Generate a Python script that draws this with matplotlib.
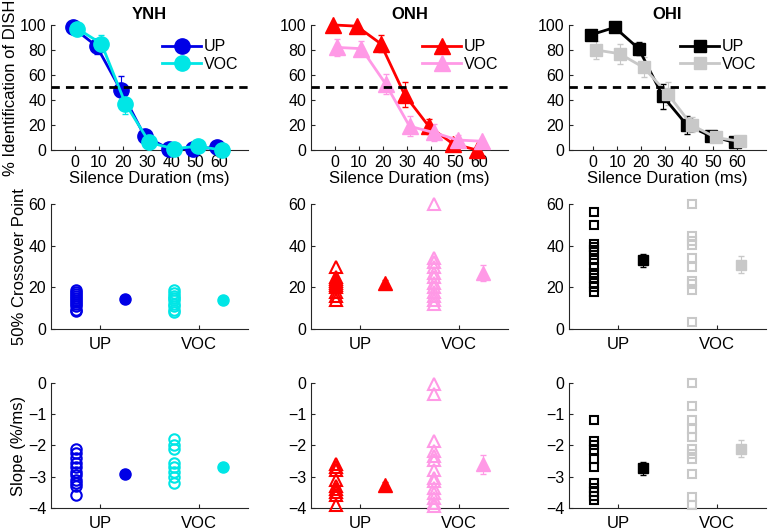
import numpy as np
import matplotlib.pyplot as plt

plt.rcParams['font.family'] = ['Liberation Sans', 'DejaVu Sans']
plt.rcParams['font.size'] = 11

groups = ['YNH', 'ONH', 'OHI']
conditions = ['UP', 'VOC']
silence = [0, 10, 20, 30, 40, 50, 60]

# identification curves (% DISH)
ynh_up = [98, 83, 48, 11, 1, 1, 2]
ynh_up_err = [1.5, 6, 11, 3, 1, 1, 1]
ynh_voc = [97, 85, 37, 6, 1, 3, 0]
ynh_voc_err = [1.5, 7, 8, 2, 1, 1, 1]
onh_up = [100, 99, 85, 44, 19, 5, 0]
onh_up_err = [0.5, 1, 7, 10, 6, 3, 0.5]
onh_voc = [82, 81, 53, 19, 14, 8, 7]
onh_voc_err = [7, 6, 8, 8, 7, 4, 2]
ohi_up = [92, 98, 81, 43, 20, 11, 6]
ohi_up_err = [4, 2, 5, 10, 7, 4, 4]
ohi_voc = [80, 77, 66, 45, 20, 10, 7]
ohi_voc_err = [7, 8, 8, 9, 6, 4, 3]

# 50% crossover points (individuals and mean +/- se)
ynh_cross_up = [19, 18, 17, 16, 15, 14, 13, 12, 11, 9, 8.5]
ynh_cross_voc = [19, 17.5, 16, 15, 14, 12, 11, 9, 8]
ynh_cross_mean = [14.5, 14]
ynh_cross_se = [1, 1]
onh_cross_up = [30, 25, 24, 23, 22, 21, 20, 18, 16, 14]
onh_cross_voc = [60, 34, 32, 30, 27, 25, 22, 20, 18, 16, 14, 12]
onh_cross_mean = [22, 27]
onh_cross_se = [1.5, 4]
ohi_cross_up = [56, 50, 41, 39.5, 38, 35.5, 33, 30, 27, 24.5, 22, 20, 18]
ohi_cross_voc = [60, 44.5, 42.5, 40.5, 34, 30, 23, 21.5, 19, 3.5]
ohi_cross_mean = [33, 31]
ohi_cross_se = [3, 4]

# slopes (%/ms)
ynh_slope_up = [-2.1, -2.25, -2.4, -2.55, -2.7, -2.85, -2.95, -3.1, -3.2, -3.3, -3.6]
ynh_slope_voc = [-1.8, -2.0, -2.1, -2.55, -2.7, -2.85, -3.0, -3.2]
ynh_slope_mean = [-2.9, -2.7]
ynh_slope_se = [0.1, 0.12]
onh_slope_up = [-2.6, -2.7, -2.8, -3.1, -3.3, -3.4, -3.5, -3.6, -3.9]
onh_slope_voc = [-0.05, -0.37, -1.87, -2.19, -2.35, -2.45, -2.77, -3.04, -3.15,
                 -3.36, -3.52, -3.68, -3.84, -3.95]
onh_slope_mean = [-3.25, -2.6]
onh_slope_se = [0.08, 0.3]
ohi_slope_up = [-1.2, -1.85, -2.0, -2.15, -2.42, -2.7, -3.2, -3.36, -3.5, -3.63, -3.75]
ohi_slope_voc = [0, -0.75, -1.2, -1.47, -1.73, -2.1, -2.26, -2.43, -2.91, -3.65, -3.91]
ohi_slope_mean = [-2.73, -2.1]
ohi_slope_se = [0.2, 0.28]

ident = [(ynh_up, ynh_up_err, ynh_voc, ynh_voc_err),
         (onh_up, onh_up_err, onh_voc, onh_voc_err),
         (ohi_up, ohi_up_err, ohi_voc, ohi_voc_err)]
cross = [(ynh_cross_up, ynh_cross_voc, ynh_cross_mean, ynh_cross_se),
         (onh_cross_up, onh_cross_voc, onh_cross_mean, onh_cross_se),
         (ohi_cross_up, ohi_cross_voc, ohi_cross_mean, ohi_cross_se)]
slope = [(ynh_slope_up, ynh_slope_voc, ynh_slope_mean, ynh_slope_se),
         (onh_slope_up, onh_slope_voc, onh_slope_mean, onh_slope_se),
         (ohi_slope_up, ohi_slope_voc, ohi_slope_mean, ohi_slope_se)]

colors = [('#0000E6', '#00E6E6'), ('#FF0000', '#FF99E6'), ('#000000', '#C8C8C8')]
markers = ['o', '^', 's']
ms_top = [11, 12, 9]
ms_ind = [7.5, 9, 6]
ms_mean = [8, 10, 7]

fig = plt.figure(figsize=(7.68, 5.3), dpi=100)
lefts = [0.0664, 0.405, 0.741]
bottoms = [0.717, 0.379, 0.0415]
w, h = 0.2565, 0.236


def style(ax):
    for s in ['top', 'right']:
        ax.spines[s].set_visible(False)
    for s in ['left', 'bottom']:
        ax.spines[s].set_color('#262626')
        ax.spines[s].set_linewidth(0.8)
    ax.tick_params(direction='in', length=3, colors='#262626', labelsize=11.5,
                   labelcolor='black')


for g in range(3):
    cu, cv = colors[g]
    m = markers[g]
    # top row
    ax = fig.add_axes([lefts[g], bottoms[0], w, h])
    up, upe, voc, voce = ident[g]
    x = np.array(silence)
    ax.errorbar(x - 1, up, yerr=upe, color=cu, marker=m, ms=ms_top[g], lw=2,
                capsize=2.5, elinewidth=0.8, label='UP', zorder=3, clip_on=False)
    ax.errorbar(x + 1, voc, yerr=voce, color=cv, marker=m, ms=ms_top[g], lw=2,
                capsize=2.5, elinewidth=0.8, label='VOC', zorder=3, clip_on=False)
    ax.axhline(50, color='black', ls=(0, (3, 2.2)), lw=2, zorder=4)
    ax.set_xlim(-10, 72)
    ax.set_ylim(0, 100)
    ax.set_xticks(silence)
    ax.set_yticks([0, 20, 40, 60, 80, 100])
    ax.set_xlabel('Silence Duration (ms)', fontsize=12, labelpad=1)
    ax.set_title(groups[g], fontweight='bold', fontsize=12, pad=4)
    style(ax)
    handles, labels = ax.get_legend_handles_labels()
    handles = [hh[0] for hh in handles]
    ax.legend(handles, labels, frameon=False, loc='upper right', fontsize=11.5,
              bbox_to_anchor=(1.0, 0.96), handlelength=2.4, handletextpad=0.2,
              labelspacing=0.15, borderaxespad=0.2)
    if g == 0:
        ax.set_ylabel('% Identification of DISH', fontsize=12, labelpad=1)

    # middle + bottom rows
    for r, data, ylim, yt, ylab in [(1, cross[g], (0, 60), [0, 20, 40, 60], '50% Crossover Point'),
                                   (2, slope[g], (-4, 0), [-4, -3, -2, -1, 0], 'Slope (%/ms)')]:
        ax = fig.add_axes([lefts[g], bottoms[r], w, h])
        ind_up, ind_voc, mean, se = data
        for k, (vals, c) in enumerate([(ind_up, cu), (ind_voc, cv)]):
            ax.plot(np.full(len(vals), k + 0.75), vals, ls='none', marker=m, ms=ms_ind[g],
                    mfc='none', mec=c, mew=1.5, clip_on=False, zorder=3)
            ax.errorbar(k + 1.25, mean[k], yerr=se[k], color=c, marker=m, ms=ms_mean[g],
                        capsize=2.5, elinewidth=0.8, clip_on=False, zorder=3)
        ax.set_xlim(0.5, 2.5)
        ax.set_ylim(*ylim)
        ax.set_yticks(yt)
        ax.set_xticks([1, 2])
        ax.set_xticklabels(conditions)
        style(ax)
        ax.tick_params(axis='x', labelsize=12, pad=6)
        if g == 0:
            ax.set_ylabel(ylab, fontsize=12, labelpad=1)

fig.savefig('out.png', dpi=100)
